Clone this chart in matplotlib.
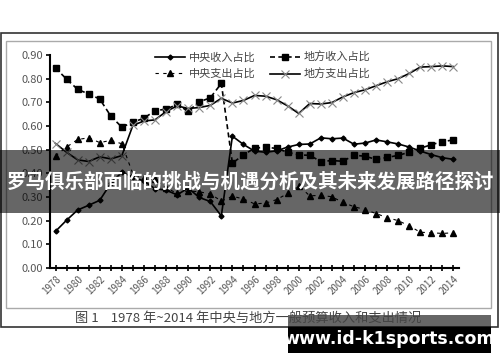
import numpy as np
import matplotlib
matplotlib.use("Agg")
import matplotlib.pyplot as plt
from matplotlib.patches import Rectangle

plt.rcParams['font.family'] = ['Noto Sans CJK SC', 'DejaVu Sans']

# Datos (1978-2014)
anios = list(range(1978, 2015))
central_ingreso = [0.155, 0.202, 0.245, 0.265, 0.286, 0.358, 0.405, 0.384, 0.367, 0.335,
                   0.329, 0.309, 0.338, 0.298, 0.281, 0.220, 0.557, 0.522, 0.494, 0.489,
                   0.495, 0.511, 0.522, 0.524, 0.550, 0.546, 0.549, 0.523, 0.528, 0.541,
                   0.533, 0.524, 0.511, 0.494, 0.479, 0.466, 0.459]
local_ingreso = [0.845, 0.798, 0.755, 0.735, 0.714, 0.642, 0.595, 0.616, 0.633, 0.665,
                 0.671, 0.691, 0.662, 0.702, 0.719, 0.780, 0.443, 0.478, 0.506, 0.511,
                 0.505, 0.489, 0.478, 0.476, 0.450, 0.454, 0.451, 0.477, 0.472, 0.459,
                 0.467, 0.476, 0.489, 0.506, 0.521, 0.534, 0.541]
central_gasto = [0.474, 0.511, 0.543, 0.550, 0.530, 0.539, 0.525, 0.397, 0.379, 0.374,
                 0.339, 0.315, 0.326, 0.322, 0.313, 0.283, 0.303, 0.292, 0.271, 0.274,
                 0.289, 0.315, 0.347, 0.305, 0.307, 0.301, 0.277, 0.259, 0.247, 0.230,
                 0.213, 0.200, 0.178, 0.151, 0.149, 0.146, 0.149]
local_gasto = [0.526, 0.489, 0.457, 0.450, 0.470, 0.461, 0.475, 0.603, 0.621, 0.626,
               0.661, 0.685, 0.674, 0.678, 0.687, 0.717, 0.697, 0.708, 0.729, 0.726,
               0.711, 0.685, 0.653, 0.695, 0.693, 0.699, 0.723, 0.741, 0.753, 0.770,
               0.787, 0.800, 0.822, 0.849, 0.851, 0.854, 0.851]

etiquetas = ["中央收入占比", "中央支出占比", "地方收入占比", "地方支出占比"]
titulo_banner = "罗马俱乐部面临的挑战与机遇分析及其未来发展路径探讨"
pie_figura = "图 1    1978 年~2014 年中央与地方一般预算收入和支出情况"
marca = "www.id-k1sports.com"

fig = plt.figure(figsize=(5.0, 3.62), dpi=100)
fig.patch.set_facecolor('white')

# Marco exterior e interior
fig.add_artist(Rectangle((0.002, 1 - 327 / 362), 0.994, (327 - 33) / 362, transform=fig.transFigure,
                         fill=False, edgecolor='#333333', lw=1.2))
fig.add_artist(Rectangle((6 / 500, 1 - 308 / 362), (491 - 6) / 500, (308 - 41) / 362,
                         transform=fig.transFigure, fill=False, edgecolor='#aaaaaa', lw=1.0))

ax = fig.add_axes([50 / 500, 1 - 268 / 362, (459 - 50) / 500, (268 - 55) / 362])
ax.set_facecolor('none')

l1, = ax.plot(anios, central_ingreso, color='black', lw=1.2, marker='D', ms=2.5)
l2, = ax.plot(anios, local_ingreso, color='black', lw=1.2, ls=(0, (3, 2)), marker='s', ms=4)
l3, = ax.plot(anios, central_gasto, color='black', lw=0.8, ls=(0, (3, 4)), marker='^', ms=4.5)
l4, = ax.plot(anios, local_gasto, color='black', lw=1.2, marker='x', ms=5.5,
              markeredgecolor='#888888', markeredgewidth=0.8)

ax.set_xlim(1977.5, 2014.5)
ax.set_ylim(0, 0.9)
ax.set_yticks(np.arange(0, 0.91, 0.1))
ax.set_yticklabels([f"{v:.2f}" for v in np.arange(0, 0.91, 0.1)], fontsize=8, color='#555555')
ax.set_xticks(anios[::2])
ax.set_xticklabels([str(a) for a in anios[::2]], rotation=45, fontsize=7, color='#555555',
                   ha='right', rotation_mode='anchor')
ax.set_xticks(anios, minor=True)
ax.tick_params(axis='x', which='both', direction='inout', length=4, width=1.2, pad=2)
ax.tick_params(axis='y', direction='out', length=3, width=1.2, pad=2)
for lado in ['top', 'right']:
    ax.spines[lado].set_visible(False)
for lado in ['left', 'bottom']:
    ax.spines[lado].set_linewidth(1.5)

ax.legend([l1, l3, l2, l4], etiquetas, ncol=2, frameon=False, fontsize=8,
          labelcolor='#444444', handlelength=2.7, columnspacing=1.2, handletextpad=0.4,
          labelspacing=0.5, loc='upper left', bbox_to_anchor=(145 / 500, 1 - 42 / 362),
          bbox_transform=fig.transFigure)

# Pie de figura
fig.text(248 / 500, 1 - 318 / 362, pie_figura, fontsize=9.5, color='#444444', ha='center', va='center')

# Banda superpuesta con titulo
fig.add_artist(Rectangle((0, 1 - 213 / 362), 1, 63 / 362, transform=fig.transFigure,
                         facecolor='black', alpha=0.6, edgecolor='none'))
fig.text(0.5, 1 - 182 / 362, titulo_banner, fontsize=14, color='white', fontweight='bold',
         ha='center', va='center')

# Marca de agua
fig.add_artist(Rectangle((288 / 500, 1 - 327 / 362), 203 / 500, 12 / 362, transform=fig.transFigure,
                         facecolor='black', alpha=0.6, edgecolor='none'))
fig.add_artist(Rectangle((288 / 500, 1 - 353 / 362), 203 / 500, 26 / 362, transform=fig.transFigure,
                         facecolor='black', edgecolor='none'))
fig.text(389 / 500, 1 - 339 / 362, marca, fontsize=12.5, color='white', fontweight='bold',
         ha='center', va='center', family='DejaVu Sans')

fig.savefig("out.png", dpi=100)
